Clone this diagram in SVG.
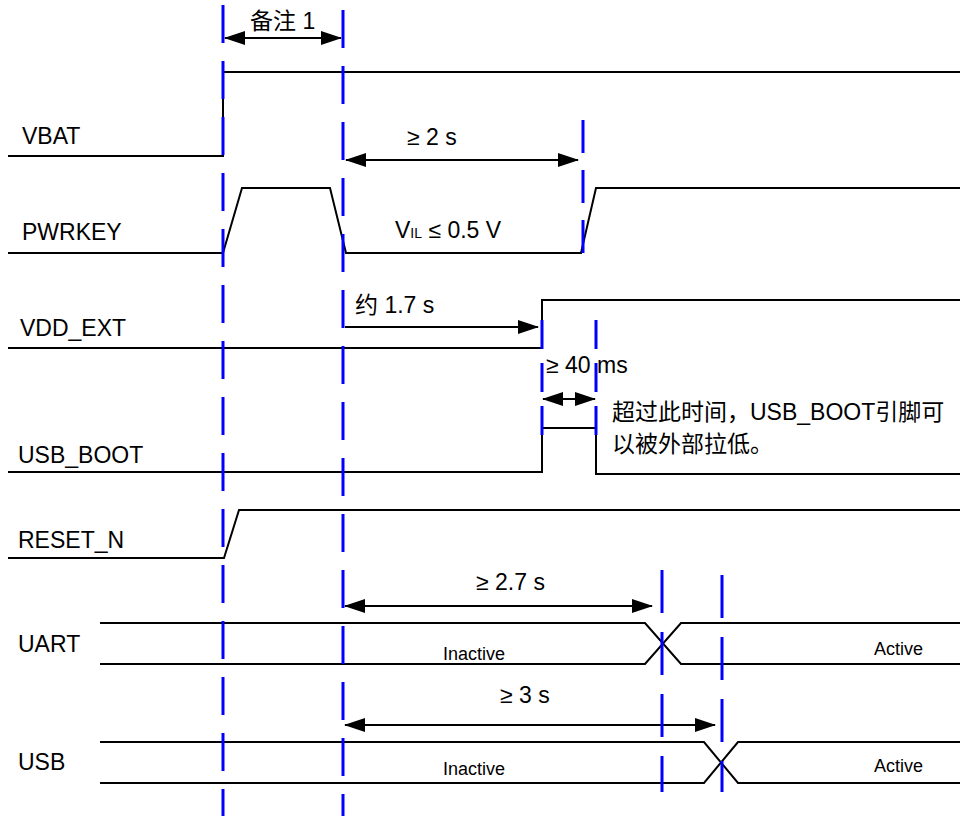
<svg xmlns="http://www.w3.org/2000/svg" width="960" height="816" viewBox="0 0 960 816">
<style>
text{font-family:"Liberation Sans","Noto Sans CJK SC",sans-serif;font-size:23px;fill:#000}
.sm{font-size:18px}
.sig{fill:none;stroke:#000;stroke-width:2}
.arr{fill:none;stroke:#000;stroke-width:2;marker-start:url(#ah);marker-end:url(#ah)}
.arr1{fill:none;stroke:#000;stroke-width:2;marker-end:url(#ah)}
.dl{stroke:#0000ff;stroke-width:3;fill:none}
</style>
<defs>
<marker id="ah" viewBox="0 0 21 14" refX="20" refY="7" markerWidth="21" markerHeight="14" markerUnits="userSpaceOnUse" orient="auto-start-reverse">
<path d="M0,0 L21,7 L0,14 Z" fill="#000"/>
</marker>
</defs>
<rect width="960" height="816" fill="#fff"/>
<g id="labels">
<text x="22" y="144">VBAT</text>
<text x="22" y="240">PWRKEY</text>
<text x="20" y="336">VDD_EXT</text>
<text x="18" y="463">USB_BOOT</text>
<text x="18" y="548">RESET_N</text>
<text x="18" y="652">UART</text>
<text x="18" y="770">USB</text>
</g>
<g id="signals">
<path id="vbat" class="sig" d="M8,156 H223 V72 H960"/>
<path id="pwrkey" class="sig" d="M8,253 H223 L242,188 H330 L346,253 H581 L596,188 H960"/>
<path id="vddext" class="sig" d="M8,348 H542 V300 H960"/>
<path id="usbboot" class="sig" d="M8,472 H542 V428 H596 V474 H960"/>
<path id="resetn" class="sig" d="M8,558 H224 L239,510 H960"/>
<path id="uart" class="sig" d="M100,623 H645 L681,664 H960 M100,664 H645 L681,623 H960"/>
<path id="usb" class="sig" d="M100,742 H704 L738,783 H960 M100,783 H704 L738,742 H960"/>
</g>
<g id="connectors">
<line class="arr" x1="225" y1="38" x2="341" y2="38"/>
<line class="arr" x1="346" y1="160" x2="578" y2="160"/>
<line class="arr1" x1="345" y1="327" x2="538" y2="327"/>
<line class="arr" x1="543" y1="399" x2="595" y2="399"/>
<line class="arr" x1="345" y1="606" x2="652" y2="606"/>
<line class="arr" x1="345" y1="725" x2="715" y2="725"/>
</g>
<g id="annotations">
<text x="250" y="29">备注 1</text>
<text x="407" y="145">≥ 2 s</text>
<text x="395" y="238">V<tspan font-size="14">IL</tspan> ≤ 0.5 V</text>
<text x="355" y="313">约 1.7 s</text>
<text x="546" y="373">≥ 40 ms</text>
<text x="612" y="420">超过此时间，USB_BOOT引脚可</text>
<text x="612" y="452">以被外部拉低。</text>
<text x="476" y="590">≥ 2.7 s</text>
<text x="500" y="703">≥ 3 s</text>
<text class="sm" x="443" y="660">Inactive</text>
<text class="sm" x="874" y="655">Active</text>
<text class="sm" x="443" y="775">Inactive</text>
<text class="sm" x="874" y="772">Active</text>
</g>
<g id="markers">
<line class="dl" x1="223" y1="5" x2="223" y2="816" stroke-dasharray="38 18"/>
<line class="dl" x1="343" y1="10" x2="343" y2="816" stroke-dasharray="38 18"/>
<line class="dl" x1="583" y1="120" x2="583" y2="255" stroke-dasharray="33 17"/>
<line class="dl" x1="542" y1="320" x2="542" y2="437" stroke-dasharray="29 14"/>
<line class="dl" x1="596" y1="320" x2="596" y2="437" stroke-dasharray="29 14"/>
<line class="dl" x1="662" y1="570" x2="662" y2="792" stroke-dasharray="43 19"/>
<line class="dl" x1="722" y1="575" x2="722" y2="792" stroke-dasharray="43 19"/>
</g>
</svg>
